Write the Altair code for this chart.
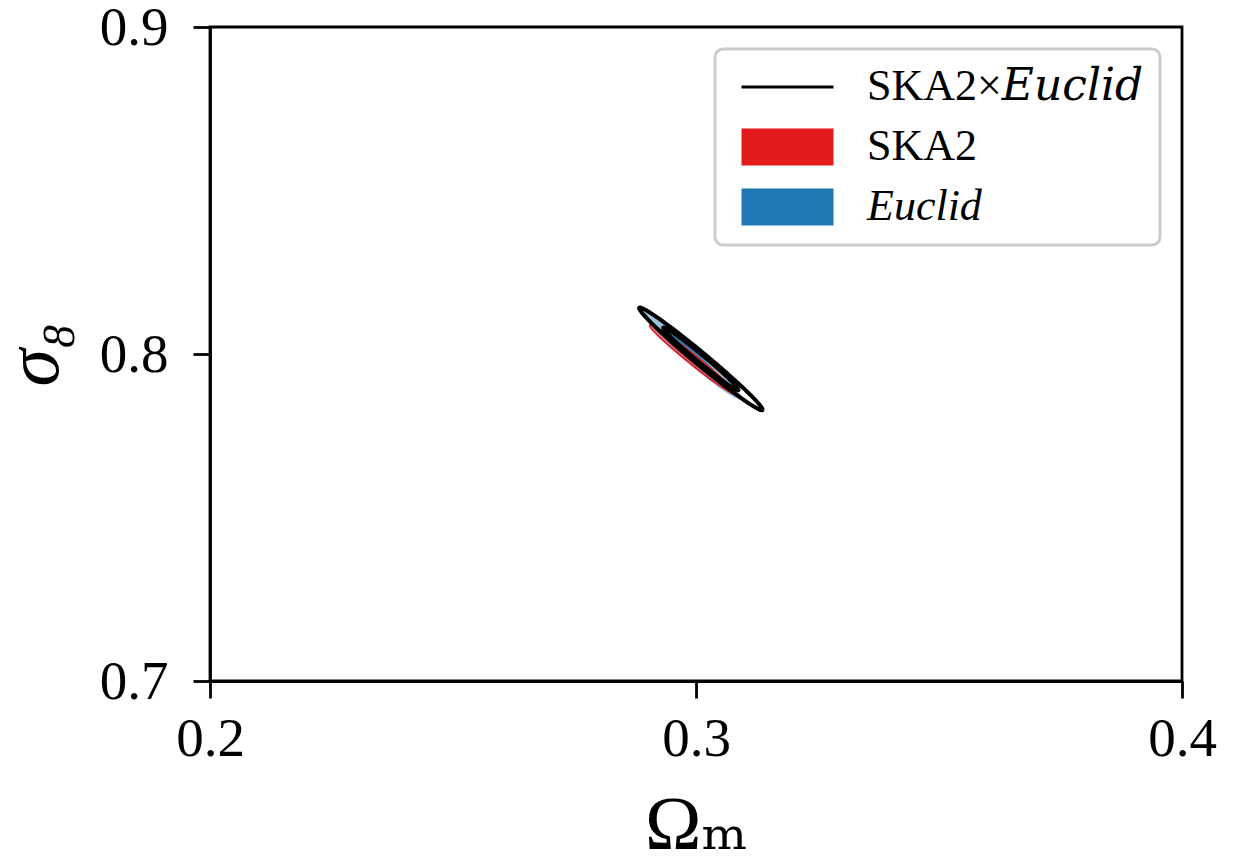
import numpy as np
import pandas as pd
import altair as alt

# Forecast parameters (Omega_m, sigma_8): centre, 1-sigma marginal errors, correlation
series_names = ["SKA2×𝐸𝑢𝑐𝑙𝑖𝑑", "SKA2", "Euclid"]
series_colors = ["#000000", "#e31a1c", "#1f78b4"]

centre_om = [0.3010, 0.2994, 0.2992]
centre_s8 = [0.7985, 0.7982, 0.7995]
sigma_om = [0.00511, 0.0036, 0.0041]
sigma_s8 = [0.00632, 0.0043, 0.0054]
rho = [-0.988, -0.985, -0.970]

# Delta chi^2 for the 68% and 95% two-parameter contours
levels = [2.30, 6.18]
level_names = ["1sigma", "2sigma"]

x_ticks = [0.2, 0.3, 0.4]
y_ticks = [0.7, 0.8, 0.9]


def covariance(i):
    sx, sy, r = sigma_om[i], sigma_s8[i], rho[i]
    return np.array([[sx * sx, r * sx * sy], [r * sx * sy, sy * sy]])


def contour_loop(i, dchi2, n=240):
    c = covariance(i)
    chol = np.linalg.cholesky(c)
    t = np.linspace(0, 2 * np.pi, n)
    pts = chol @ np.vstack([np.cos(t), np.sin(t)]) * np.sqrt(dchi2)
    return pts[0] + centre_om[i], pts[1] + centre_s8[i]


def contour_band(i, dchi2, n=160):
    c = covariance(i)
    cxx, cxy, cyy = c[0, 0], c[0, 1], c[1, 1]
    half = np.sqrt(dchi2 * cxx)
    dx = half * np.cos(np.linspace(np.pi, 0, n))
    mid = cxy / cxx * dx
    w = np.sqrt(dchi2 * (cyy - cxy ** 2 / cxx)) * np.sqrt(np.clip(1 - dx ** 2 / half ** 2, 0, None))
    return dx + centre_om[i], centre_s8[i] + mid - w, centre_s8[i] + mid + w


def loop_frame(i, names):
    rows = []
    for lev, name in zip(levels, level_names):
        if name not in names:
            continue
        x, y = contour_loop(i, lev)
        for k, (a, b) in enumerate(zip(x, y)):
            rows.append({"om": a, "s8": b, "level": name, "k": k})
    return pd.DataFrame(rows)


xscale = alt.Scale(domain=[0.2, 0.4], nice=False, zero=False)
yscale = alt.Scale(domain=[0.7, 0.9], nice=False, zero=False)

layers = []

# Filled contours for the single surveys: Euclid first, SKA2 on top
for idx in [2, 1]:
    for lev, alpha in zip([levels[1], levels[0]], [0.45, 0.85]):
        x, lo, hi = contour_band(idx, lev)
        df = pd.DataFrame({"om": x, "lo": lo, "hi": hi})
        layers.append(
            alt.Chart(df)
            .mark_area(color=series_colors[idx], opacity=alpha)
            .encode(
                x=alt.X("om:Q", scale=xscale),
                y=alt.Y("lo:Q", scale=yscale),
                y2="hi:Q",
            )
        )

# SKA2 outer edge
layers.append(
    alt.Chart(loop_frame(1, ["2sigma"]))
    .mark_line(color=series_colors[1], strokeWidth=1.6)
    .encode(
        x=alt.X("om:Q", scale=xscale),
        y=alt.Y("s8:Q", scale=yscale),
        detail="level:N",
        order="k:Q",
    )
)

# Combined contours as black outlines
layers.append(
    alt.Chart(loop_frame(0, level_names))
    .mark_line(color="#000000", strokeWidth=4)
    .encode(
        x=alt.X("om:Q", scale=xscale),
        y=alt.Y("s8:Q", scale=yscale),
        detail="level:N",
        order="k:Q",
    )
)

# Legend-only layer (points have no position, so only the legend shows)
leg = pd.DataFrame({"series": series_names, "om": [None] * 3, "s8": [None] * 3})
# symbol paths reach to the right of the nominal symbol box
line_path = "M-1,-0.14H7V0.14H-1Z"
rect_path = "M-1,-1.6H7V1.6H-1Z"
italic_label = alt.ExprRef("datum.label == 'Euclid' ? 'italic' : 'normal'")
layers.append(
    alt.Chart(leg)
    .mark_point(filled=True, opacity=1)
    .encode(
        x=alt.X("om:Q", scale=xscale),
        y=alt.Y("s8:Q", scale=yscale),
        color=alt.Color(
            "series:N",
            scale=alt.Scale(domain=series_names, range=series_colors),
            legend=alt.Legend(title=None, labelFontStyle=italic_label),
        ),
        shape=alt.Shape(
            "series:N",
            scale=alt.Scale(domain=series_names, range=[line_path, rect_path, rect_path]),
            legend=alt.Legend(title=None, labelFontStyle=italic_label),
        ),
    )
)

base = alt.layer(*layers).encode(
    x=alt.X(
        "om:Q",
        scale=xscale,
        title="Ωₘ",
        axis=alt.Axis(values=x_ticks, format=".1f", labelFlush=False),
    ),
    y=alt.Y(
        "s8:Q",
        scale=yscale,
        title="σ₈",
        axis=alt.Axis(values=y_ticks, format=".1f", titleFontStyle="italic", labelFlush=False),
    ),
)

serif = "Liberation Serif, DejaVu Serif"

chart = (
    base.properties(
        width=972,
        height=654,
        autosize=alt.AutoSizeParams(type="none"),
        padding={"left": 210, "top": 27, "right": 61, "bottom": 182},
    )
    .configure_view(stroke="#000000", strokeWidth=2.8)
    .configure_axis(
        grid=False,
        domainColor="#000000",
        domainWidth=2.8,
        tickColor="#000000",
        tickWidth=2.8,
        tickSize=17,
        labelFont=serif,
        labelFontSize=55,
        labelColor="#000000",
        labelPadding=14,
        titleFont=serif,
        titleFontSize=76,
        titleFontWeight="normal",
        titleColor="#000000",
    )
    .configure_axisX(titlePadding=22)
    .configure_axisY(titlePadding=26, labelPadding=25)
    .configure_legend(
        orient="top-right",
        offset=22,
        padding=16,
        strokeColor="#cccccc",
        strokeWidth=3,
        cornerRadius=8,
        fillColor="#ffffff",
        symbolSize=529,
        symbolStrokeWidth=0,
        symbolOpacity=1,
        labelFont=serif,
        labelFontSize=44,
        labelColor="#000000",
        labelOffset=92,
        rowPadding=16,
        labelLimit=500,
    )
)

chart.save("out.html", embed_options={"renderer": "svg", "actions": False})
